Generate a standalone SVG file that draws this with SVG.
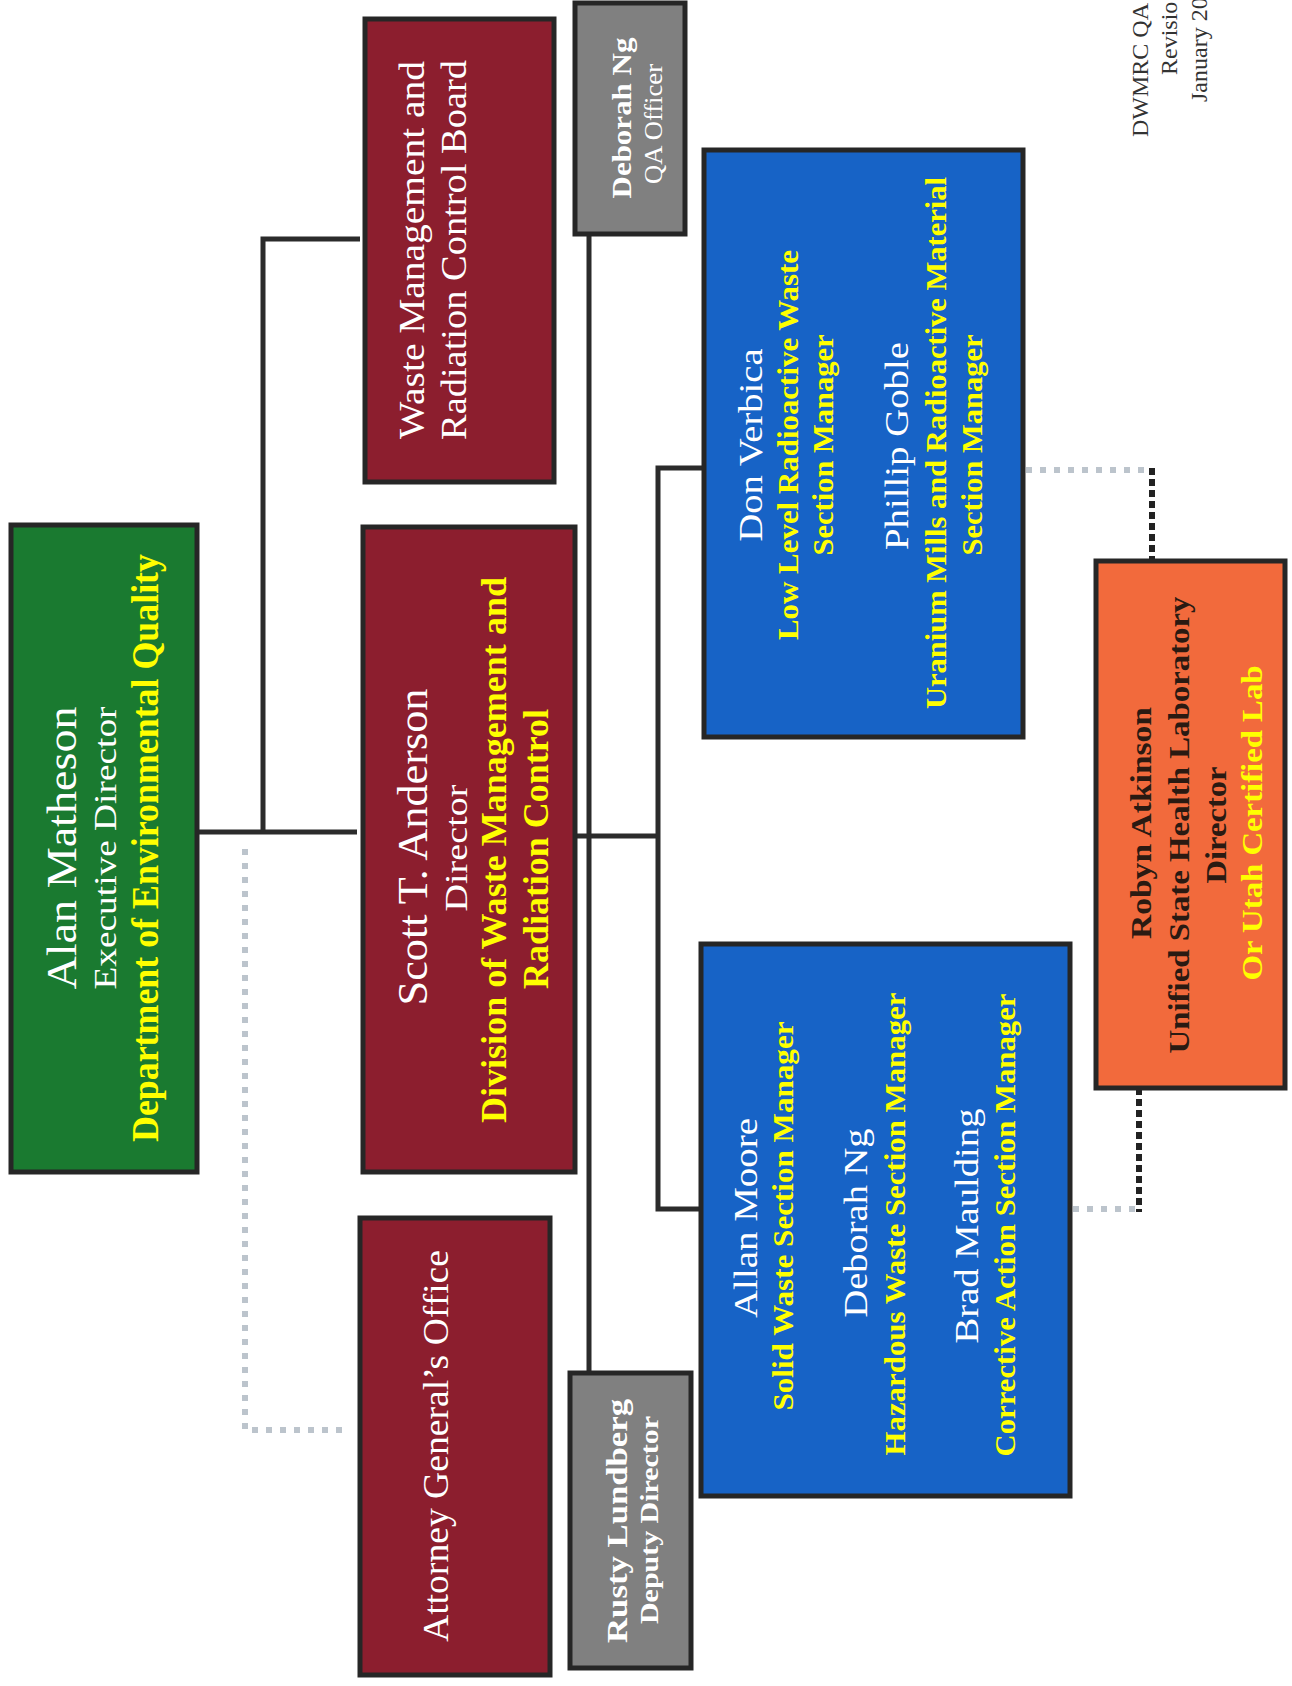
<svg xmlns="http://www.w3.org/2000/svg" width="1292" height="1686" viewBox="0 0 1292 1686">
<style>
.box{stroke:#262626;stroke-width:5}
.green{fill:#1a7a30}
.red{fill:#8c1e2e}
.gray{fill:#808080}
.blue{fill:#1763c6}
.orange{fill:#f26a3c}
text{font-family:"Liberation Serif","Times New Roman",serif;text-anchor:middle}
.w{fill:#ffffff}
.y{fill:#ffff00;font-weight:bold}
.d{fill:#2a1a12;font-weight:bold}
.b{font-weight:bold}
.solid{fill:none;stroke:#2b2b2b;stroke-width:5}
.dot{fill:none;stroke:#bcc4cc;stroke-width:6;stroke-dasharray:6 8}
.dash{fill:none;stroke:#222222;stroke-width:6;stroke-dasharray:7 4}
.hdr{fill:#333333;font-size:24px}
</style>

<g id="connectors">
  <path class="solid" d="M174 832 H357"/>
  <path class="solid" d="M263 832 V239 H360"/>
  <path class="solid" d="M589 234 V1373"/>
  <path class="solid" d="M552 836 H658"/>
  <path class="solid" d="M704 468 H658 V1209 H701"/>
  <path class="dot" d="M245 849 V1430 H350"/>
  <path class="dot" d="M1026 470 H1152"/>
  <path class="dash" d="M1152 468 V561"/>
  <path class="dot" d="M1073 1209 H1139"/>
  <path class="dash" d="M1139 1088 V1212"/>
</g>

<g id="header">
  <text class="hdr" transform="translate(1148,137) rotate(-90)" style="text-anchor:start">DWMRC QA</text>
  <text class="hdr" transform="translate(1177,75) rotate(-90)" style="text-anchor:start">Revisio</text>
  <text class="hdr" transform="translate(1207,102) rotate(-90)" style="text-anchor:start">January 20</text>
</g>

<g id="node-matheson">
  <rect class="box green" x="11" y="525" width="186" height="647"/>
  <text class="w" font-size="42" textLength="283" lengthAdjust="spacingAndGlyphs" transform="translate(76,848) rotate(-90)">Alan Matheson</text>
  <text class="w" font-size="32" textLength="283" lengthAdjust="spacingAndGlyphs" transform="translate(116,848) rotate(-90)">Executive Director</text>
  <text class="y" font-size="38" textLength="588" lengthAdjust="spacingAndGlyphs" transform="translate(158,848) rotate(-90)">Department of Environmental Quality</text>
</g>

<g id="node-board">
  <rect class="box red" x="365" y="19" width="189" height="463"/>
  <text class="w" font-size="36" textLength="378" lengthAdjust="spacingAndGlyphs" transform="translate(424,250) rotate(-90)">Waste Management and</text>
  <text class="w" font-size="36" textLength="380" lengthAdjust="spacingAndGlyphs" transform="translate(466,250) rotate(-90)">Radiation Control Board</text>
</g>

<g id="node-anderson">
  <rect class="box red" x="363" y="527" width="212" height="645"/>
  <text class="w" font-size="42" textLength="317" lengthAdjust="spacingAndGlyphs" transform="translate(427,847) rotate(-90)">Scott T. Anderson</text>
  <text class="w" font-size="32" textLength="127" lengthAdjust="spacingAndGlyphs" transform="translate(467,848) rotate(-90)">Director</text>
  <text class="y" font-size="36" textLength="546" lengthAdjust="spacingAndGlyphs" transform="translate(506,850) rotate(-90)">Division of Waste Management and</text>
  <text class="y" font-size="36" textLength="280" lengthAdjust="spacingAndGlyphs" transform="translate(548,849) rotate(-90)">Radiation Control</text>
</g>

<g id="node-attorney">
  <rect class="box red" x="360" y="1218" width="190" height="457"/>
  <text class="w" font-size="36" textLength="392" lengthAdjust="spacingAndGlyphs" transform="translate(448,1446) rotate(-90)">Attorney General’s Office</text>
</g>

<g id="node-qa">
  <rect class="box gray" x="575" y="3" width="110" height="231"/>
  <text class="w b" font-size="28" textLength="161" lengthAdjust="spacingAndGlyphs" transform="translate(631,118) rotate(-90)">Deborah Ng</text>
  <text class="w" font-size="26" textLength="120" lengthAdjust="spacingAndGlyphs" transform="translate(662,124) rotate(-90)">QA Officer</text>
</g>

<g id="node-lundberg">
  <rect class="box gray" x="570" y="1373" width="121" height="295"/>
  <text class="w b" font-size="30" textLength="244" lengthAdjust="spacingAndGlyphs" transform="translate(627,1521) rotate(-90)">Rusty Lundberg</text>
  <text class="w b" font-size="26" textLength="208" lengthAdjust="spacingAndGlyphs" transform="translate(658,1520) rotate(-90)">Deputy Director</text>
</g>

<g id="node-radioactive">
  <rect class="box blue" x="704" y="150" width="319" height="587"/>
  <text class="w" font-size="34" textLength="193" lengthAdjust="spacingAndGlyphs" transform="translate(762,445) rotate(-90)">Don Verbica</text>
  <text class="y" font-size="30" textLength="390" lengthAdjust="spacingAndGlyphs" transform="translate(798,445) rotate(-90)">Low Level Radioactive Waste</text>
  <text class="y" font-size="30" textLength="221" lengthAdjust="spacingAndGlyphs" transform="translate(833,445) rotate(-90)">Section Manager</text>
  <text class="w" font-size="34" textLength="208" lengthAdjust="spacingAndGlyphs" transform="translate(908,446) rotate(-90)">Phillip Goble</text>
  <text class="y" font-size="30" textLength="532" lengthAdjust="spacingAndGlyphs" transform="translate(946,443) rotate(-90)">Uranium Mills and Radioactive Material</text>
  <text class="y" font-size="30" textLength="221" lengthAdjust="spacingAndGlyphs" transform="translate(982,445) rotate(-90)">Section Manager</text>
</g>

<g id="node-waste">
  <rect class="box blue" x="701" y="944" width="369" height="552"/>
  <text class="w" font-size="34" textLength="200" lengthAdjust="spacingAndGlyphs" transform="translate(757,1218) rotate(-90)">Allan Moore</text>
  <text class="y" font-size="30" textLength="389" lengthAdjust="spacingAndGlyphs" transform="translate(793,1216) rotate(-90)">Solid Waste Section Manager</text>
  <text class="w" font-size="34" textLength="189" lengthAdjust="spacingAndGlyphs" transform="translate(867,1223) rotate(-90)">Deborah Ng</text>
  <text class="y" font-size="30" textLength="463" lengthAdjust="spacingAndGlyphs" transform="translate(905,1224) rotate(-90)">Hazardous Waste Section Manager</text>
  <text class="w" font-size="34" textLength="235" lengthAdjust="spacingAndGlyphs" transform="translate(978,1226) rotate(-90)">Brad Maulding</text>
  <text class="y" font-size="30" textLength="463" lengthAdjust="spacingAndGlyphs" transform="translate(1015,1225) rotate(-90)">Corrective Action Section Manager</text>
</g>

<g id="node-lab">
  <rect class="box orange" x="1096" y="561" width="189" height="527"/>
  <text class="d" font-size="30" textLength="232" lengthAdjust="spacingAndGlyphs" transform="translate(1151,823) rotate(-90)">Robyn Atkinson</text>
  <text class="d" font-size="30" textLength="457" lengthAdjust="spacingAndGlyphs" transform="translate(1189,825) rotate(-90)">Unified State Health Laboratory</text>
  <text class="d" font-size="30" textLength="117" lengthAdjust="spacingAndGlyphs" transform="translate(1226,825) rotate(-90)">Director</text>
  <text class="y" font-size="30" textLength="315" lengthAdjust="spacingAndGlyphs" transform="translate(1262,823) rotate(-90)">Or Utah Certified Lab</text>
</g>
</svg>
